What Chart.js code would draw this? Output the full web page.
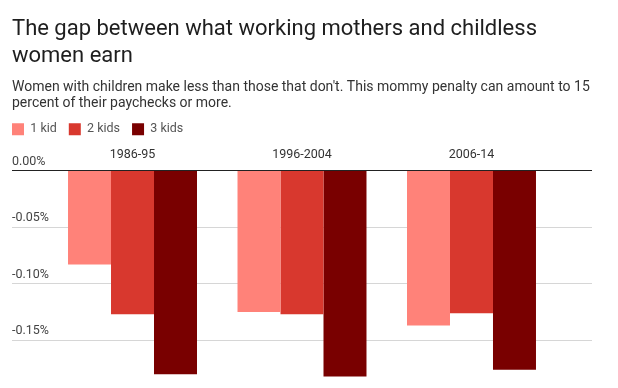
<!DOCTYPE html>
<html>
<head>
<meta charset="utf-8">
<script src="https://cdn.jsdelivr.net/npm/chart.js@4"></script>
<style>
  body { margin: 0; background: #fff; }
</style>
</head>
<body>
<canvas id="myChart" width="618" height="388"></canvas>
<script>
//categories and series (share of pay, in percent)
const periods = ['1986-95', '1996-2004', '2006-14'];
const seriesNames = ['1 kid', '2 kids', '3 kids'];
const oneKid = [-0.083, -0.125, -0.137];
const twoKids = [-0.127, -0.127, -0.126];
const threeKids = [-0.180, -0.182, -0.176];
const yTicks = [0, -0.05, -0.10, -0.15];

const colors = ['#FF8279', '#D8382E', '#790000'];
const canvasElement = document.getElementById('myChart');

Chart.defaults.font.family = 'Roboto';

//bars sit on a linear x axis so the groups can keep their spacing
function toPoints(values) {
  return values.map((v, i) => ({ x: i, y: v }));
}

//shift legend so it lines up with the title
const legendShift = {
  id: 'legendShift',
  afterLayout(chart) {
    chart.legend.left -= 12;
    chart.legend.right -= 12;
  }
};

let config = {
  type: 'bar',
  data: {
    datasets: [oneKid, twoKids, threeKids].map((vals, k) => ({
      label: seriesNames[k],
      data: toPoints(vals),
      backgroundColor: colors[k],
      borderWidth: 0
    }))
  },
  options: {
    responsive: false,
    animation: false,
    barPercentage: 1,
    categoryPercentage: 0.761,
    layout: {
      padding: { left: 12, right: 26, top: 0, bottom: 8 }
    },
    scales: {
      x: {
        type: 'linear',
        position: 'top',
        offset: false,
        min: -0.711,
        max: 2.711,
        grid: { display: false, offset: false },
        border: { display: false },
        afterBuildTicks: (scale) => {
          scale.ticks = periods.map((p, i) => ({ value: i }));
        },
        afterFit: (scale) => {
          scale.height += 2;
        },
        ticks: {
          padding: 0,
          color: '#333',
          font: { size: 12.5 },
          maxRotation: 0,
          callback: (v) => periods[v]
        }
      },
      y: {
        min: -0.185,
        max: 0,
        afterBuildTicks: (scale) => {
          scale.ticks = yTicks.map(v => ({ value: v }));
        },
        grid: {
          drawTicks: false,
          color: (ctx) => ctx.tick && ctx.tick.value === 0 ? '#222' : '#d6d6d6'
        },
        border: { display: false },
        ticks: {
          mirror: true,
          padding: 0,
          labelOffset: -9,
          color: '#444',
          font: { size: 12.5 },
          callback: (v) => Math.abs(v).toFixed(2) === '0.00' ? '0.00%' : v.toFixed(2) + '%'
        }
      }
    },
    plugins: {
      title: {
        display: true,
        align: 'start',
        text: ['The gap between what working mothers and childless', 'women earn'],
        color: '#1e1e1e',
        font: { size: 22, weight: 'normal', lineHeight: 1.23 },
        padding: { top: 16, bottom: 10 }
      },
      subtitle: {
        display: true,
        align: 'start',
        text: ["Women with children make less than those that don't. This mommy penalty can amount to 15", 'percent of their paychecks or more.'],
        color: '#333',
        font: { size: 14, lineHeight: 1.1 },
        padding: { top: 0, bottom: 0 }
      },
      legend: {
        position: 'top',
        align: 'start',
        labels: {
          boxWidth: 12,
          boxHeight: 12,
          padding: 12,
          color: '#555',
          font: { size: 12.5 }
        }
      },
      tooltip: { enabled: false }
    }
  },
  plugins: [legendShift]
};

let newChart = new Chart(canvasElement, config);
</script>
</body>
</html>
